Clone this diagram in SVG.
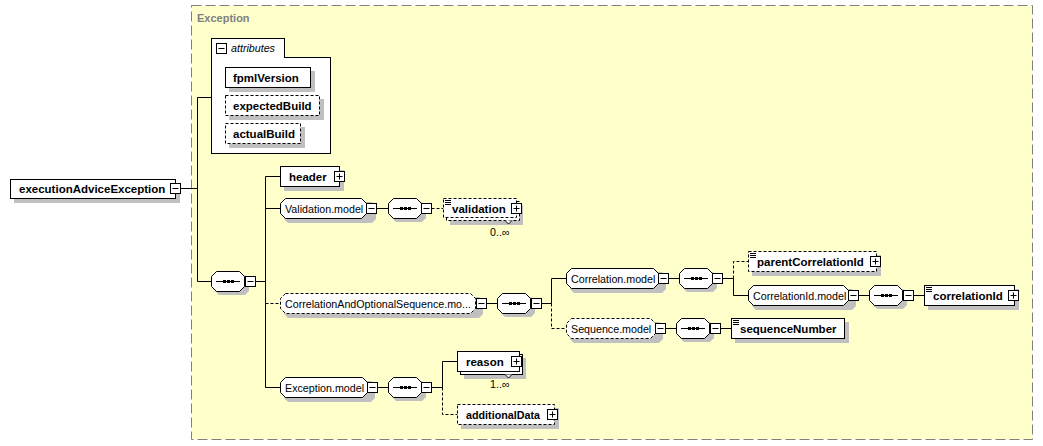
<svg xmlns="http://www.w3.org/2000/svg" width="1043" height="446" viewBox="0 0 1043 446">
<style>
.bg{fill:#fff}
.n{fill:#fff;stroke:#000;stroke-width:1}
.d{stroke-dasharray:3,2}
.sh{fill:#c0c0c0}
.ln{stroke:#000;stroke-width:1;fill:none}
.dl{stroke:#000;stroke-width:1;fill:none;stroke-dasharray:3,2}
.t{font-family:"Liberation Sans",Arial,sans-serif;font-size:10.7px;fill:#000}
.b{font-family:"Liberation Sans",Arial,sans-serif;font-size:11.5px;font-weight:bold;fill:#000}
.ttl{font-family:"Liberation Sans",Arial,sans-serif;font-size:11px;font-weight:bold;fill:#808080}
.dot{fill:#000}
</style>
<defs>
<g id="minus"><rect x="0.5" y="0.5" width="10" height="10" fill="#fff" stroke="#000"/><line x1="2.5" y1="5.5" x2="8.5" y2="5.5" stroke="#000"/></g>
<g id="plus"><rect x="0.5" y="0.5" width="10" height="10" fill="#fff" stroke="#000"/><line x1="2.5" y1="5.5" x2="8.5" y2="5.5" stroke="#000"/><line x1="5.5" y1="2.5" x2="5.5" y2="8.5" stroke="#000"/></g>
<g id="seq"><path d="M4,0H30L34,4V16L30,20H4L0,16V4Z" transform="translate(4,4)" class="sh"/><path d="M5.5,0.5H28.5L33.5,5.5V15.5L28.5,20.5H5.5L0.5,15.5V5.5Z" class="n"/><line x1="5" y1="10.5" x2="29" y2="10.5" stroke="#000"/><rect x="12" y="9" width="3" height="3" class="dot"/><rect x="16" y="9" width="3" height="3" class="dot"/><rect x="20" y="9" width="3" height="3" class="dot"/></g>
<g id="eq"><line x1="2" y1="2.5" x2="8" y2="2.5" stroke="#000"/><line x1="2" y1="4.5" x2="8" y2="4.5" stroke="#000"/><line x1="2" y1="6.5" x2="8" y2="6.5" stroke="#000"/></g>
</defs>

<g id="exception-group">
<rect x="191.5" y="5.5" width="841" height="434" fill="#ffffcc" stroke="#808080" stroke-dasharray="10,4"/>
<text x="197" y="22" class="ttl">Exception</text>
</g>

<g id="connectors">
<line x1="180.5" y1="188.5" x2="197.5" y2="188.5" class="ln"/>
<line x1="197.5" y1="97.5" x2="197.5" y2="281.5" class="ln"/>
<line x1="197.5" y1="97.5" x2="211.5" y2="97.5" class="ln"/>
<line x1="197.5" y1="281.5" x2="211.5" y2="281.5" class="ln"/>
<line x1="255.5" y1="281.5" x2="265.5" y2="281.5" class="ln"/>
<line x1="265.5" y1="176.5" x2="265.5" y2="387.5" class="ln"/>
<line x1="265.5" y1="176.5" x2="280.5" y2="176.5" class="ln"/>
<line x1="265.5" y1="208.5" x2="280.5" y2="208.5" class="ln"/>
<line x1="376.5" y1="208.5" x2="388.5" y2="208.5" class="ln"/>
<line x1="431.5" y1="208.5" x2="443.5" y2="208.5" class="dl"/>
<line x1="265.5" y1="303.5" x2="280.5" y2="303.5" class="dl"/>
<line x1="486.5" y1="303.5" x2="497.5" y2="303.5" class="ln"/>
<line x1="541.5" y1="303.5" x2="551.5" y2="303.5" class="ln"/>
<line x1="551.5" y1="278.5" x2="551.5" y2="303.5" class="ln"/>
<polyline points="551.5,303.5 551.5,328.5 566.5,328.5" class="dl"/>
<line x1="551.5" y1="278.5" x2="566.5" y2="278.5" class="ln"/>
<line x1="668.5" y1="278.5" x2="679.5" y2="278.5" class="ln"/>
<line x1="722.5" y1="278.5" x2="733.5" y2="278.5" class="ln"/>
<polyline points="733.5,278.5 733.5,261.5 748.5,261.5" class="dl"/>
<polyline points="733.5,278.5 733.5,295.5 748.5,295.5" class="ln"/>
<line x1="858.5" y1="295.5" x2="869.5" y2="295.5" class="ln"/>
<line x1="913.5" y1="295.5" x2="924.5" y2="295.5" class="ln"/>
<line x1="665.5" y1="328.5" x2="676.5" y2="328.5" class="ln"/>
<line x1="720.5" y1="328.5" x2="731.5" y2="328.5" class="ln"/>
<line x1="265.5" y1="387.5" x2="280.5" y2="387.5" class="ln"/>
<line x1="377.5" y1="387.5" x2="388.5" y2="387.5" class="ln"/>
<line x1="431.5" y1="387.5" x2="442.5" y2="387.5" class="ln"/>
<polyline points="442.5,387.5 442.5,361.5 457.5,361.5" class="ln"/>
<polyline points="442.5,387.5 442.5,414.5 457.5,414.5" class="dl"/>
</g>

<g id="executionAdviceException">
<rect x="14" y="183" width="166" height="20" class="sh"/>
<rect x="10.5" y="179.5" width="165" height="19" class="n"/>
<text x="19" y="193" class="b">executionAdviceException</text>
<use href="#minus" x="170" y="183"/>
</g>

<g id="attributes">
<rect x="211.5" y="38.5" width="73" height="19" class="n"/>
<rect x="211.5" y="57.5" width="119" height="96" class="n"/>
<rect x="212" y="56" width="72" height="2" fill="#fff"/>
<use href="#minus" x="216" y="43"/>
<text x="231" y="52" class="t" font-style="italic">attributes</text>
</g>

<g id="fpmlVersion">
<rect x="229" y="71" width="86" height="21" class="sh"/>
<rect x="225.5" y="67.5" width="85" height="20" class="n"/>
<text x="233" y="81.5" class="b">fpmlVersion</text>
</g>
<g id="expectedBuild">
<rect x="229" y="99" width="95" height="21" class="sh"/>
<rect x="225.5" y="95.5" width="94" height="20" class="n d"/>
<text x="233" y="109.5" class="b">expectedBuild</text>
</g>
<g id="actualBuild">
<rect x="229" y="127" width="76" height="21" class="sh"/>
<rect x="225.5" y="123.5" width="75" height="20" class="n d"/>
<text x="233" y="137.5" class="b">actualBuild</text>
</g>

<g id="mainSequence">
<use href="#seq" x="211" y="271"/>
<use href="#minus" x="245" y="276"/>
</g>

<g id="header">
<rect x="284" y="170" width="60" height="21" class="sh"/>
<rect x="280.5" y="166.5" width="59" height="20" class="n"/>
<text x="289" y="181" class="b">header</text>
<use href="#plus" x="334" y="171"/>
</g>

<g id="ValidationModel">
<path d="M284,202H368L372,206V219L368,223H284L280,219V206Z" transform="translate(4,0)" class="sh"/>
<path d="M285.5,198.5H361.5L366.5,203.5V213.5L361.5,218.5H285.5L280.5,213.5V203.5Z" class="n"/>
<text x="285" y="212.5" class="t">Validation.model</text>
<use href="#minus" x="366" y="203"/>
<use href="#seq" x="388" y="198"/>
<use href="#minus" x="421" y="203"/>
</g>

<g id="validation">
<rect x="450" y="205" width="73" height="20" class="sh"/>
<rect x="446.5" y="201.5" width="73" height="19" class="n d"/>
<path d="M505,220.5L508.5,224L512,220.5" class="n"/>
<rect x="443.5" y="198.5" width="73" height="19" class="n d"/>
<use href="#eq" x="443" y="198"/>
<text x="452" y="212.5" class="b">validation</text>
<use href="#plus" x="511" y="203"/>
<text x="490" y="236" class="t">0..∞</text>
</g>

<g id="CorrelationAndOptionalSequenceModel">
<path d="M284,297H475L479,301V314L475,318H284L280,314V301Z" transform="translate(4,0)" class="sh"/>
<path d="M285.5,293.5H470.5L475.5,298.5V308.5L470.5,313.5H285.5L280.5,308.5V298.5Z" class="n d"/>
<text x="285" y="307.5" class="t">CorrelationAndOptionalSequence.mo...</text>
<use href="#minus" x="476" y="298"/>
<use href="#seq" x="497" y="293"/>
<use href="#minus" x="531" y="298"/>
</g>

<g id="CorrelationModel">
<path d="M570,272H658L662,276V289L658,293H570L566,289V276Z" transform="translate(4,0)" class="sh"/>
<path d="M571.5,268.5H653.5L658.5,273.5V283.5L653.5,288.5H571.5L566.5,283.5V273.5Z" class="n"/>
<text x="571" y="282.5" class="t">Correlation.model</text>
<use href="#minus" x="658" y="273"/>
<use href="#seq" x="679" y="268"/>
<use href="#minus" x="712" y="273"/>
</g>

<g id="parentCorrelationId">
<rect x="752" y="255" width="129" height="21" class="sh"/>
<rect x="748.5" y="251.5" width="128" height="20" class="n d"/>
<use href="#eq" x="748" y="251"/>
<text x="757" y="266" class="b">parentCorrelationId</text>
<use href="#plus" x="870" y="256"/>
</g>

<g id="CorrelationIdModel">
<path d="M752,289H848L852,293V306L848,310H752L748,306V293Z" transform="translate(4,0)" class="sh"/>
<path d="M753.5,285.5H843.5L848.5,290.5V300.5L843.5,305.5H753.5L748.5,300.5V290.5Z" class="n"/>
<text x="753" y="299.5" class="t">CorrelationId.model</text>
<use href="#minus" x="848" y="290"/>
<use href="#seq" x="869" y="285"/>
<use href="#minus" x="903" y="290"/>
</g>

<g id="correlationId">
<rect x="928" y="289" width="91" height="21" class="sh"/>
<rect x="924.5" y="285.5" width="90" height="20" class="n"/>
<use href="#eq" x="924" y="285"/>
<text x="933" y="300" class="b">correlationId</text>
<use href="#plus" x="1008" y="290"/>
</g>

<g id="SequenceModel">
<path d="M570,322H655L659,326V339L655,343H570L566,339V326Z" transform="translate(4,0)" class="sh"/>
<path d="M571.5,318.5H650.5L655.5,323.5V333.5L650.5,338.5H571.5L566.5,333.5V323.5Z" class="n d"/>
<text x="571" y="332.5" class="t">Sequence.model</text>
<use href="#minus" x="655" y="323"/>
<use href="#seq" x="676" y="318"/>
<use href="#minus" x="710" y="323"/>
</g>

<g id="sequenceNumber">
<rect x="735" y="322" width="114" height="21" class="sh"/>
<rect x="731.5" y="318.5" width="113" height="20" class="n"/>
<use href="#eq" x="731" y="318"/>
<text x="740" y="333" class="b">sequenceNumber</text>
</g>

<g id="ExceptionModel">
<path d="M284,381H367L371,385V398L367,402H284L280,398V385Z" transform="translate(4,0)" class="sh"/>
<path d="M285.5,377.5H362.5L367.5,382.5V392.5L362.5,397.5H285.5L280.5,392.5V382.5Z" class="n"/>
<text x="285" y="391.5" class="t">Exception.model</text>
<use href="#minus" x="367" y="382"/>
<use href="#seq" x="388" y="377"/>
<use href="#minus" x="421" y="382"/>
</g>

<g id="reason">
<rect x="464" y="358" width="62" height="21" class="sh"/>
<rect x="460.5" y="354.5" width="62" height="20" class="n"/>
<path d="M505,374.5L508.5,378L512,374.5" class="n"/>
<rect x="457.5" y="351.5" width="62" height="20" class="n"/>
<text x="466" y="366" class="b">reason</text>
<use href="#plus" x="511" y="356"/>
<text x="490" y="388" class="t">1..∞</text>
</g>

<g id="additionalData">
<rect x="461" y="408" width="98" height="21" class="sh"/>
<rect x="457.5" y="404.5" width="97" height="20" class="n d"/>
<text x="466" y="419" class="b" textLength="74" lengthAdjust="spacingAndGlyphs">additionalData</text>
<use href="#plus" x="547" y="409"/>
</g>
</svg>
